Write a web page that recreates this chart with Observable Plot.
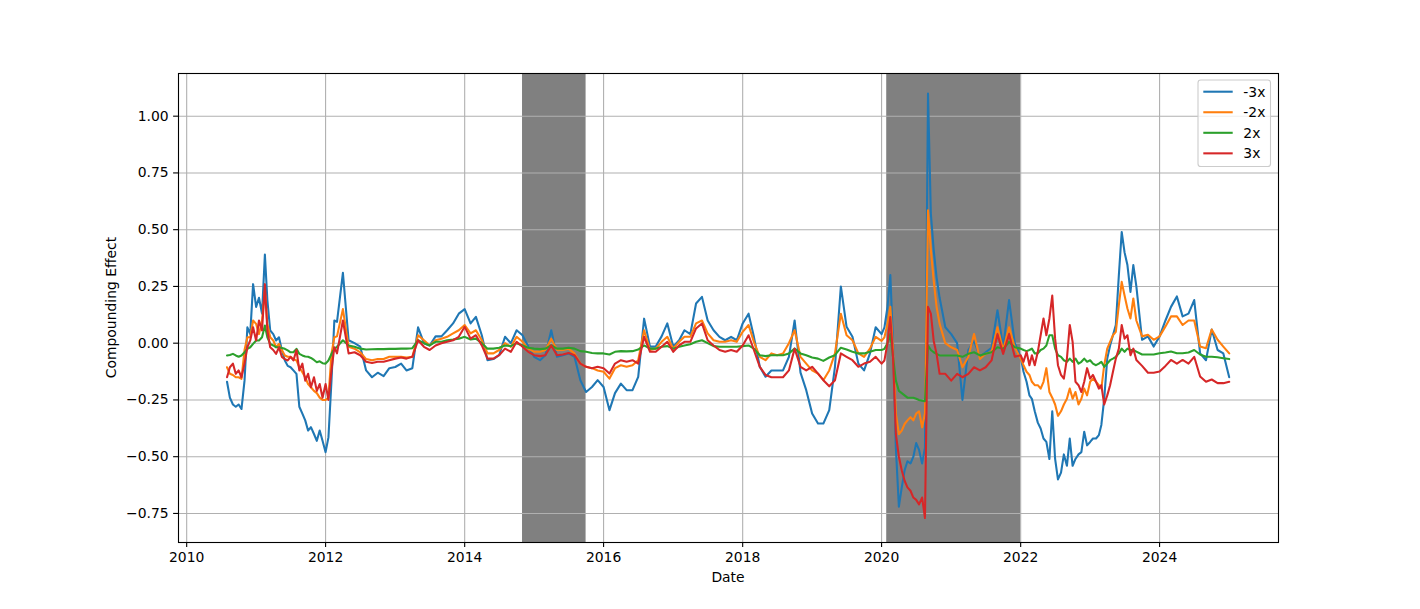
<!DOCTYPE html>
<html>
<head>
<meta charset="utf-8">
<script src="https://cdn.jsdelivr.net/npm/d3@7"></script>
<script src="https://cdn.jsdelivr.net/npm/@observablehq/plot@0.6"></script>
<style>
  html, body { margin: 0; padding: 0; background: white; }
  #chart { width: 1420px; height: 609px; }
</style>
</head>
<body>
<div id="chart"></div>
<script>
// ---- Data ----
const dates = [
  "2010-08-01","2010-08-16","2010-09-01","2010-09-16","2010-10-01","2010-10-16","2010-11-01","2010-11-16","2010-12-01","2010-12-16",
  "2011-01-01","2011-01-16","2011-02-01","2011-02-16","2011-03-01","2011-03-16","2011-04-01","2011-04-16","2011-05-01","2011-05-16","2011-06-01","2011-06-16",
  "2011-07-01","2011-07-16","2011-08-01","2011-08-16","2011-09-01","2011-09-16","2011-10-01","2011-10-16","2011-11-01","2011-11-16","2011-12-01","2011-12-16",
  "2012-01-01","2012-01-16","2012-02-01","2012-02-16","2012-03-01","2012-04-01","2012-05-01","2012-06-01","2012-07-01","2012-08-01","2012-09-01","2012-10-01","2012-11-01","2012-12-01",
  "2013-01-01","2013-02-01","2013-03-01","2013-04-01","2013-05-01","2013-06-01","2013-07-01","2013-08-01","2013-09-01","2013-10-01","2013-11-01","2013-12-01",
  "2014-01-01","2014-02-01","2014-03-01","2014-04-01","2014-05-01","2014-06-01","2014-07-01","2014-08-01","2014-09-01","2014-10-01","2014-11-01","2014-12-01",
  "2015-01-01","2015-02-01","2015-03-01","2015-04-01","2015-05-01","2015-06-01","2015-07-01","2015-08-01","2015-09-01","2015-10-01","2015-11-01","2015-12-01",
  "2016-01-01","2016-02-01","2016-03-01","2016-04-01","2016-05-01","2016-06-01","2016-07-01","2016-08-01","2016-09-01","2016-10-01","2016-11-01","2016-12-01",
  "2017-01-01","2017-02-01","2017-03-01","2017-04-01","2017-05-01","2017-06-01","2017-07-01","2017-08-01","2017-09-01","2017-10-01","2017-11-01","2017-12-01",
  "2018-01-01","2018-02-01","2018-03-01","2018-04-01","2018-05-01","2018-06-01","2018-07-01","2018-08-01","2018-09-01","2018-10-01","2018-11-01","2018-12-01",
  "2019-01-01","2019-02-01","2019-03-01","2019-04-01","2019-05-01","2019-06-01","2019-07-01","2019-08-01","2019-09-01","2019-10-01","2019-11-01","2019-12-01",
  "2020-01-01","2020-01-16","2020-02-01","2020-02-16","2020-03-01","2020-03-16","2020-04-01","2020-04-16","2020-05-01","2020-05-16","2020-06-01","2020-06-16",
  "2020-07-01","2020-07-16","2020-08-01","2020-08-16","2020-09-01","2020-09-16","2020-10-01","2020-10-16","2020-11-01","2020-12-01",
  "2021-01-01","2021-02-01","2021-03-01","2021-04-01","2021-05-01","2021-06-01","2021-07-01","2021-08-01","2021-09-01","2021-10-01","2021-11-01","2021-12-01",
  "2022-01-01","2022-01-16","2022-02-01","2022-02-16","2022-03-01","2022-03-16","2022-04-01","2022-04-16","2022-05-01","2022-05-16","2022-06-01","2022-06-16",
  "2022-07-01","2022-07-16","2022-08-01","2022-08-16","2022-09-01","2022-09-16","2022-10-01","2022-10-16","2022-11-01","2022-11-16","2022-12-01","2022-12-16",
  "2023-01-01","2023-01-16","2023-02-01","2023-02-16","2023-03-01","2023-03-16","2023-04-01","2023-04-16","2023-05-01","2023-05-16","2023-06-01","2023-06-16",
  "2023-07-01","2023-07-16","2023-08-01","2023-08-16","2023-09-01","2023-10-01","2023-11-01","2023-12-01",
  "2024-01-01","2024-02-01","2024-03-01","2024-04-01","2024-05-01","2024-06-01","2024-07-01","2024-08-01","2024-09-01","2024-10-01","2024-11-01","2024-12-01",
  "2025-01-01"
];

// -3x
const m3x = [
  -0.17, -0.24, -0.27, -0.28, -0.27, -0.29, -0.165, 0.07, 0.04, 0.26,
  0.16, 0.20, 0.13, 0.39, 0.19, 0.056, 0.04, 0.012, 0.026, -0.03, -0.076, -0.10,
  -0.106, -0.12, -0.135, -0.28, -0.31, -0.34, -0.385, -0.37, -0.40, -0.43, -0.385, -0.43,
  -0.48, -0.415, -0.165, 0.10, 0.094, 0.31, 0.013, 0.0, -0.015, -0.12, -0.15, -0.13, -0.145, -0.11,
  -0.105, -0.09, -0.12, -0.11, 0.07, 0.0, -0.01, 0.03, 0.03, 0.057, 0.087, 0.13,
  0.15, 0.087, 0.116, 0.035, -0.075, -0.07, -0.053, 0.028, 0.0, 0.057, 0.035, -0.015,
  -0.06, -0.075, -0.053, 0.057, -0.06, -0.053, -0.045, -0.06, -0.163, -0.215, -0.193, -0.163,
  -0.193, -0.295, -0.22, -0.178, -0.207, -0.207, -0.148, 0.108, -0.015, -0.015, 0.03, 0.087,
  -0.015, 0.013, 0.057, 0.04, 0.175, 0.204, 0.10, 0.057, 0.028, 0.013, 0.028, 0.013,
  0.087, 0.13, 0.028, -0.104, -0.148, -0.12, -0.12, -0.12, -0.06, 0.10, -0.13, -0.207,
  -0.31, -0.354, -0.354, -0.295, -0.104, 0.25, 0.072, 0.028, -0.09, -0.12, -0.045, 0.07,
  0.04, 0.07, 0.16, 0.30, 0.01, -0.46, -0.72, -0.635, -0.56, -0.52, -0.53, -0.50,
  -0.44, -0.47, -0.53, -0.46, 1.10, 0.57, 0.41, 0.29, 0.20, 0.07,
  0.04, 0.0, -0.25, -0.03, 0.01, -0.06, -0.04, -0.02, 0.145, -0.02, 0.19, 0.0,
  -0.06, -0.126, -0.17, -0.23, -0.245, -0.30, -0.35, -0.376, -0.42, -0.435, -0.51, -0.30,
  -0.51, -0.60, -0.57, -0.49, -0.54, -0.42, -0.54, -0.51, -0.49, -0.48, -0.39, -0.45,
  -0.435, -0.42, -0.42, -0.405, -0.36, -0.245, -0.068, -0.01, 0.035, 0.08, 0.30, 0.49,
  0.40, 0.344, 0.226, 0.344, 0.25, 0.015, 0.03, -0.015,
  0.03, 0.10, 0.16, 0.206, 0.118, 0.13, 0.19, -0.045, -0.075, 0.06, -0.03, -0.045,
  -0.15
];

// -2x
const m2x = [
  -0.106, -0.135, -0.14, -0.15, -0.15, -0.157, -0.03, 0.026, 0.026, 0.10,
  0.085, 0.04, 0.10, 0.23, 0.085, 0.026, 0.012, -0.018, -0.003, -0.03, -0.054, -0.06,
  -0.06, -0.07, -0.076, -0.106, -0.128, -0.15, -0.18, -0.194, -0.21, -0.22, -0.24, -0.25,
  -0.25, -0.24, -0.047, 0.026, 0.03, 0.15, -0.016, -0.024, -0.04, -0.07, -0.075, -0.07, -0.07, -0.06,
  -0.06, -0.06, -0.063, -0.06, 0.035, 0.013, -0.01, 0.013, 0.02, 0.028, 0.043, 0.057,
  0.08, 0.043, 0.057, 0.013, -0.045, -0.045, -0.03, 0.0, -0.016, 0.028, 0.006, -0.024,
  -0.038, -0.038, -0.03, 0.02, -0.03, -0.03, -0.024, -0.045, -0.09, -0.104, -0.11, -0.12,
  -0.126, -0.156, -0.11, -0.097, -0.104, -0.097, -0.075, 0.057, -0.03, -0.024, 0.006, 0.028,
  -0.024, 0.006, 0.028, 0.028, 0.087, 0.10, 0.043, 0.013, 0.006, 0.006, 0.013, 0.006,
  0.05, 0.08, 0.006, -0.06, -0.075, -0.045, -0.053, -0.045, 0.0, 0.057, -0.06, -0.09,
  -0.12, -0.134, -0.163, -0.12, -0.045, 0.13, 0.035, 0.013, -0.045, -0.06, -0.024, 0.028,
  0.01, 0.026, 0.085, 0.16, -0.02, -0.31, -0.40, -0.385, -0.356, -0.34, -0.326, -0.34,
  -0.31, -0.30, -0.37, -0.31, 0.585, 0.41, 0.276, 0.16, 0.085, 0.0,
  -0.018, -0.03, -0.106, -0.06, 0.04, -0.07, -0.047, -0.04, 0.07, -0.03, 0.07, -0.018,
  -0.068, -0.097, -0.126, -0.14, -0.17, -0.185, -0.185, -0.20, -0.17, -0.11, -0.215, -0.24,
  -0.27, -0.32, -0.30, -0.27, -0.245, -0.20, -0.245, -0.215, -0.27, -0.245, -0.20, -0.23,
  -0.17, -0.156, -0.17, -0.185, -0.20, -0.097, -0.024, 0.006, 0.035, 0.05, 0.168, 0.27,
  0.21, 0.153, 0.109, 0.197, 0.10, 0.03, 0.037, 0.015,
  0.03, 0.074, 0.118, 0.118, 0.08, 0.10, 0.10, -0.015, -0.022, 0.06, 0.015, -0.015,
  -0.045
];

// 2x
const p2x = [
  -0.054, -0.052, -0.047, -0.054, -0.06, -0.054, -0.04, -0.025, -0.018, -0.003,
  0.012, 0.012, 0.026, 0.078, 0.026, -0.003, -0.01, -0.018, -0.018, -0.021, -0.025, -0.032,
  -0.04, -0.04, -0.025, -0.047, -0.054, -0.059, -0.06, -0.065, -0.074, -0.084, -0.08, -0.088,
  -0.09, -0.076, -0.047, -0.025, -0.016, 0.013, -0.01, -0.016, -0.024, -0.028, -0.027, -0.026, -0.026, -0.025,
  -0.025, -0.024, -0.024, -0.022, 0.013, 0.0, -0.01, 0.006, 0.006, 0.013, 0.016, 0.02,
  0.028, 0.016, 0.02, 0.0, -0.024, -0.024, -0.02, -0.01, -0.013, 0.0, -0.01, -0.02,
  -0.024, -0.026, -0.024, -0.01, -0.024, -0.024, -0.02, -0.024, -0.035, -0.038, -0.043, -0.045,
  -0.045, -0.05, -0.038, -0.035, -0.036, -0.035, -0.028, -0.01, -0.024, -0.024, -0.016, -0.013,
  -0.024, -0.016, -0.01, -0.005, 0.006, 0.013, 0.0, -0.013, -0.016, -0.016, -0.016, -0.016,
  -0.013, -0.01, -0.024, -0.053, -0.057, -0.053, -0.053, -0.053, -0.045, -0.024, -0.045, -0.053,
  -0.063, -0.068, -0.078, -0.063, -0.053, -0.02, -0.028, -0.038, -0.045, -0.045, -0.038, -0.03,
  -0.03, -0.025, 0.0, 0.04, -0.06, -0.165, -0.21, -0.22, -0.23, -0.24, -0.24, -0.24,
  -0.245, -0.25, -0.253, -0.256, -0.01, -0.03, -0.04, -0.047, -0.054, -0.054,
  -0.054, -0.054, -0.06, -0.047, -0.04, -0.054, -0.047, -0.04, -0.018, -0.025, 0.005, -0.018,
  -0.024, -0.03, -0.035, -0.03, -0.024, -0.045, -0.045, -0.03, -0.024, -0.01, 0.035, 0.035,
  -0.024, -0.053, -0.06, -0.075, -0.082, -0.068, -0.082, -0.068, -0.09, -0.082, -0.068, -0.082,
  -0.075, -0.09, -0.097, -0.09, -0.082, -0.104, -0.09, -0.075, -0.068, -0.06, -0.045, -0.024,
  -0.038, -0.024, -0.03, -0.03, -0.037, -0.05, -0.05, -0.05,
  -0.044, -0.041, -0.037, -0.044, -0.044, -0.041, -0.03, -0.05, -0.06, -0.06, -0.062, -0.066,
  -0.07
];

// 3x
const p3x = [
  -0.15, -0.106, -0.09, -0.135, -0.12, -0.15, -0.09, -0.018, 0.012, 0.07,
  0.012, 0.10, 0.056, 0.26, 0.056, -0.018, -0.03, -0.047, -0.018, -0.06, -0.07, -0.076,
  -0.06, -0.076, -0.03, -0.12, -0.09, -0.165, -0.135, -0.194, -0.15, -0.21, -0.18, -0.24,
  -0.18, -0.25, -0.12, -0.018, -0.045, 0.10, -0.045, -0.04, -0.053, -0.082, -0.087, -0.082, -0.082, -0.075,
  -0.068, -0.063, -0.068, -0.06, 0.013, -0.016, -0.03, -0.01, 0.0, 0.006, 0.013, 0.028,
  0.072, 0.02, 0.035, -0.01, -0.068, -0.068, -0.053, -0.024, -0.038, 0.006, -0.016, -0.038,
  -0.053, -0.057, -0.053, -0.01, -0.053, -0.05, -0.043, -0.053, -0.09, -0.104, -0.11, -0.104,
  -0.11, -0.134, -0.09, -0.075, -0.082, -0.075, -0.09, 0.028, -0.038, -0.038, -0.016, 0.006,
  -0.038, -0.01, 0.006, 0.006, 0.065, 0.087, 0.013, -0.01, -0.03, -0.038, -0.03, -0.038,
  -0.01, 0.035, -0.03, -0.104, -0.14, -0.15, -0.15, -0.15, -0.12, -0.024, -0.104, -0.12,
  -0.104, -0.134, -0.163, -0.19, -0.163, -0.045, -0.06, -0.075, -0.104, -0.09, -0.082, -0.06,
  -0.09, -0.076, 0.0, 0.115, -0.06, -0.40, -0.50, -0.56, -0.606, -0.635, -0.65, -0.68,
  -0.69, -0.71, -0.68, -0.77, 0.16, 0.13, 0.01, -0.047, -0.135, -0.135,
  -0.165, -0.135, -0.15, -0.135, -0.106, -0.12, -0.106, -0.076, 0.04, -0.047, 0.04, -0.06,
  -0.053, -0.082, -0.038, -0.097, -0.053, -0.097, -0.038, 0.035, 0.109, 0.035, 0.109, 0.21,
  0.02, -0.097, -0.14, -0.156, -0.068, 0.08, 0.006, -0.17, -0.185, -0.215, -0.17, -0.11,
  -0.156, -0.14, -0.17, -0.20, -0.185, -0.27, -0.23, -0.185, -0.126, -0.068, -0.024, 0.08,
  0.02, 0.035, -0.053, -0.024, -0.074, -0.10, -0.13, -0.13,
  -0.125, -0.10, -0.074, -0.09, -0.074, -0.09, -0.06, -0.147, -0.17, -0.16, -0.176, -0.176,
  -0.17
];

const seriesNames = ["-3x", "-2x", "2x", "3x"];
const seriesColors = ["#1f77b4", "#ff7f0e", "#2ca02c", "#d62728"];
const seriesValues = [m3x, m2x, p2x, p3x];

// shaded periods
const bandStarts = ["2014-11-01", "2020-01-28"];
const bandEnds = ["2015-10-01", "2022-01-01"];

// ticks
const xTickYears = [2010, 2012, 2014, 2016, 2018, 2020, 2022, 2024];
const yTickValues = [-0.75, -0.5, -0.25, 0, 0.25, 0.5, 0.75, 1.0];

// ---- Build ----
const parse = d3.utcParse("%Y-%m-%d");
seriesValues.forEach((v, i) => {
  if (v.length !== dates.length) console.error(seriesNames[i], v.length, dates.length);
});
const rows = seriesNames.map((name, i) =>
  dates.map((d, j) => ({date: parse(d), value: seriesValues[i][j], series: name}))
);
const bands = bandStarts.map((s, i) => ({start: parse(s), end: parse(bandEnds[i])}));
const xTicks = xTickYears.map(y => new Date(Date.UTC(y, 0, 1)));

const yDomain = [-0.878, 1.188];
const xDomain = [parse("2009-11-19"), parse("2025-09-17")];
const gridStyle = {stroke: "#b0b0b0", strokeOpacity: 1, strokeWidth: 1.1};

const chart = Plot.plot({
  width: 1420,
  height: 609,
  marginLeft: 178,
  marginRight: 142,
  marginTop: 73,
  marginBottom: 67,
  style: {fontFamily: "'DejaVu Sans', sans-serif", fontSize: "13.9px", color: "black", background: "white", overflow: "visible"},
  x: {type: "utc", domain: xDomain},
  y: {domain: yDomain},
  marks: [
    Plot.rect(bands, {x1: "start", x2: "end", y1: () => yDomain[0], y2: () => yDomain[1], fill: "#808080"}),
    Plot.gridX(xTicks, gridStyle),
    Plot.gridY(yTickValues, gridStyle),
    ...rows.map((r, i) => Plot.line(r, {x: "date", y: "value", stroke: seriesColors[i], strokeWidth: 2.08, strokeLinejoin: "round"})),
    Plot.frame({stroke: "black", strokeWidth: 1.1}),
    Plot.axisX(xTicks, {tickFormat: d3.utcFormat("%Y"), tickSize: 4.9, tickPadding: 4.9, label: null, strokeWidth: 1.1, fontSize: 13.9}),
    Plot.axisY(yTickValues, {tickFormat: d3.format(".2f"), tickSize: 4.9, tickPadding: 4.9, label: null, strokeWidth: 1.1, fontSize: 13.9})
  ]
});

document.getElementById("chart").appendChild(chart);

// axis labels and legend
const svg = d3.select(chart);
const font = "'DejaVu Sans', sans-serif";
svg.append("text")
  .attr("x", 728).attr("y", 582)
  .attr("text-anchor", "middle")
  .attr("font-family", font).attr("font-size", 13.9).attr("fill", "black")
  .text("Date");
svg.append("text")
  .attr("transform", "translate(115.5,307.5) rotate(-90)")
  .attr("text-anchor", "middle")
  .attr("font-family", font).attr("font-size", 13.9).attr("fill", "black")
  .text("Compounding Effect");

const lg = svg.append("g").attr("text-anchor", "start");
lg.append("rect")
  .attr("x", 1198).attr("y", 80).attr("width", 72.5).attr("height", 86.5).attr("rx", 2.8)
  .attr("fill", "white").attr("fill-opacity", 0.8)
  .attr("stroke", "#cccccc").attr("stroke-width", 1.1);
seriesNames.forEach((name, i) => {
  const y = 91.7 + i * 20.55;
  lg.append("line")
    .attr("x1", 1203.3).attr("x2", 1232.7).attr("y1", y).attr("y2", y)
    .attr("stroke", seriesColors[i]).attr("stroke-width", 2.08);
  lg.append("text")
    .attr("x", 1243.3).attr("y", y).attr("dy", "0.36em")
    .attr("text-anchor", "start")
    .attr("font-family", font).attr("font-size", 13.9).attr("fill", "black")
    .text(name);
});
</script>
</body>
</html>
